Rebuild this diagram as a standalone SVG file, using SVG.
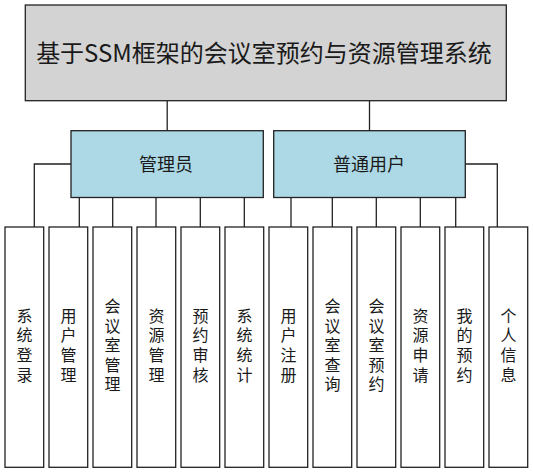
<svg xmlns="http://www.w3.org/2000/svg" width="533" height="473" viewBox="0 0 533 473">
<style>
.box{stroke:#222;stroke-width:1.3}
.root{fill:#d3d3d3}
.mid{fill:#add8e6}
.leaf{fill:#fff}
.conn{fill:none;stroke:#222;stroke-width:1.3}
text{font-family:"Noto Sans CJK SC","Noto Sans",sans-serif;fill:#1a1a1a;text-anchor:middle;dominant-baseline:central}
.t1{font-size:24px}
.t2{font-size:18px}
.t3{font-size:16px;writing-mode:vertical-rl;letter-spacing:3.6px}
</style>
<rect width="533" height="473" fill="#fff"/>
<g id="connectors">
<path class="conn" d="M167.2 100.7V130.7M369.5 100.7V130.7"/>
<path class="conn" d="M71 164H34.3V227M79.3 197.5V227M112.7 197.5V227M156 197.5V227M200.3 197.5V227M244.3 197.5V227"/>
<path class="conn" d="M465.3 164H497.3V227M291 197.5V227M332.3 197.5V227M376.3 197.5V227M420.3 197.5V227M455.7 197.5V227"/>
</g>
<g id="root"><rect class="box root" x="25.3" y="5" width="481" height="95.7"/><text class="t1" x="264" y="51">基于SSM框架的会议室预约与资源管理系统</text></g>
<g id="admin"><rect class="box mid" x="71" y="130.7" width="192.3" height="66.8"/><text class="t2" x="166" y="163">管理员</text></g>
<g id="user"><rect class="box mid" x="273.7" y="130.7" width="191.6" height="66.8"/><text class="t2" x="369" y="163">普通用户</text></g>
<g id="n1"><rect class="box leaf" x="5" y="227" width="38.7" height="240.3"/><text class="t3" x="24.5" y="347">系统登录</text></g>
<g id="n2"><rect class="box leaf" x="49" y="227" width="38.7" height="240.3"/><text class="t3" x="68.5" y="347">用户管理</text></g>
<g id="n3"><rect class="box leaf" x="93" y="227" width="38.7" height="240.3"/><text class="t3" x="112.5" y="347">会议室管理</text></g>
<g id="n4"><rect class="box leaf" x="137" y="227" width="38.7" height="240.3"/><text class="t3" x="156.5" y="347">资源管理</text></g>
<g id="n5"><rect class="box leaf" x="181" y="227" width="38.7" height="240.3"/><text class="t3" x="200.5" y="347">预约审核</text></g>
<g id="n6"><rect class="box leaf" x="225" y="227" width="38.7" height="240.3"/><text class="t3" x="244.5" y="347">系统统计</text></g>
<g id="n7"><rect class="box leaf" x="269" y="227" width="38.7" height="240.3"/><text class="t3" x="288.5" y="347">用户注册</text></g>
<g id="n8"><rect class="box leaf" x="313" y="227" width="38.7" height="240.3"/><text class="t3" x="332.5" y="347">会议室查询</text></g>
<g id="n9"><rect class="box leaf" x="357" y="227" width="38.7" height="240.3"/><text class="t3" x="376.5" y="347">会议室预约</text></g>
<g id="n10"><rect class="box leaf" x="401" y="227" width="38.7" height="240.3"/><text class="t3" x="420.5" y="347">资源申请</text></g>
<g id="n11"><rect class="box leaf" x="445" y="227" width="38.7" height="240.3"/><text class="t3" x="464.5" y="347">我的预约</text></g>
<g id="n12"><rect class="box leaf" x="489" y="227" width="38.7" height="240.3"/><text class="t3" x="508.5" y="347">个人信息</text></g>
</svg>
